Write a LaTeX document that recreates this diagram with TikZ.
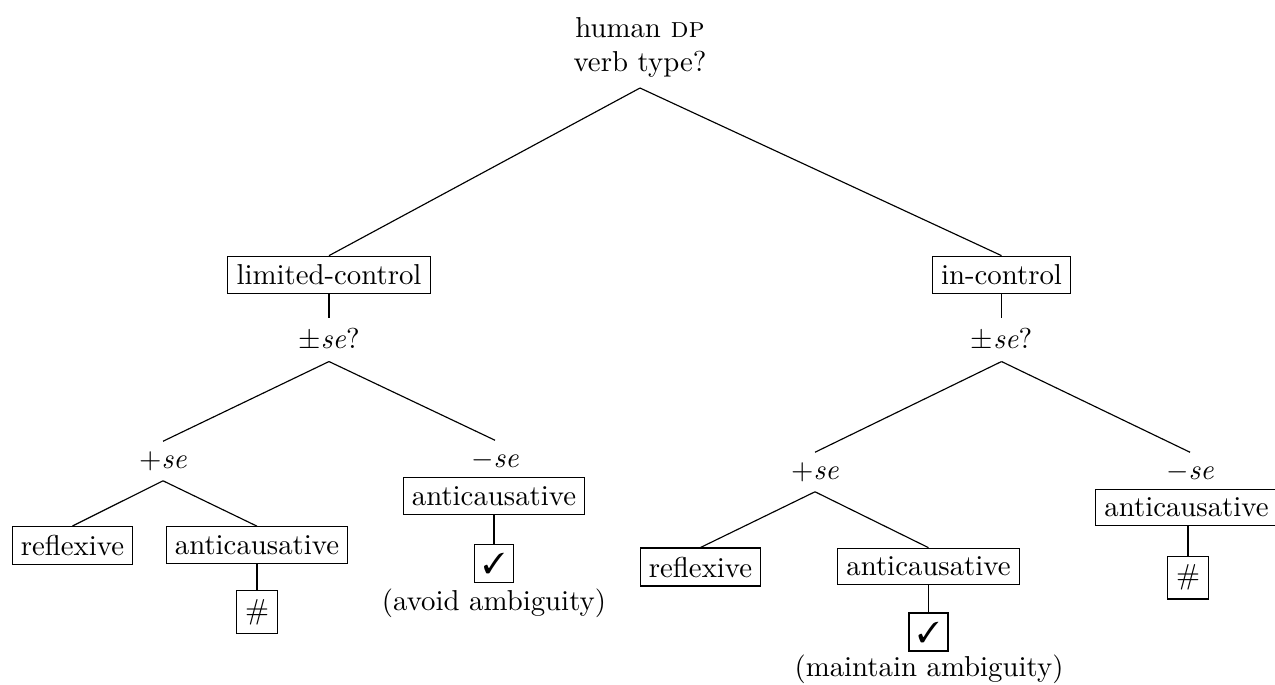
\documentclass[tikz,border=0pt]{standalone}
\usepackage{pifont}
\tikzset{
  box/.style={draw, inner sep=3pt},
  lbl/.style={inner sep=3.33pt},
  edge/.style={draw, line width=0.4pt},
}
\begin{document}
\begin{tikzpicture}[x=0.3472pt,y=-0.3472pt]
\useasboundingbox (0,0) rectangle (1275,684);
% root
\node[lbl, align=center, anchor=south] (root) at (640,88) {human \textsc{dp}\\verb type?};
% level 1
\node[box] (lc) at (329,275) {limited-control};
\node[box] (ic) at (1001.5,275) {in-control};
% level 2
\node[lbl] (pl) at (329,340) {$\pm$\textit{se\/}?};
\node[lbl] (pr) at (1001.5,340) {$\pm$\textit{se\/}?};
% left subtree
\node[lbl] (psL) at (163,461) {$+$\textit{se}};
\node[lbl] (msL) at (495,460) {$-$\textit{se}};
\node[box] (refL) at (72.5,545.5) {reflexive};
\node[box] (acL) at (257,545) {anticausative};
\node[box] (hashL) at (257,612) {\#};
\node[box] (acM) at (494,496) {anticausative};
\node[box] (chkL) at (494,563.5) {\ding{51}};
\node[lbl] (avoid) at (494,603) {(avoid ambiguity)};
% right subtree
\node[lbl] (psR) at (815,472) {$+$\textit{se}};
\node[lbl] (msR) at (1190,472) {$-$\textit{se}};
\node[box] (refR) at (700.5,567) {reflexive};
\node[box] (acR) at (928.5,566.5) {anticausative};
\node[box] (chkR) at (928.5,632) {\ding{51}};
\node[lbl] (maint) at (929,669) {(maintain ambiguity)};
\node[box] (acR2) at (1186.5,507.5) {anticausative};
\node[box] (hashR) at (1188,577.5) {\#};
% connectors
\path[edge] (root.south) -- (lc.north);
\path[edge] (root.south) -- (ic.north);
\path[edge] (lc.south) -- (pl.north);
\path[edge] (ic.south) -- (pr.north);
\path[edge] (pl.south) -- (psL.north);
\path[edge] (pl.south) -- (msL.north);
\path[edge] (psL.south) -- (refL.north);
\path[edge] (psL.south) -- (acL.north);
\path[edge] (acL.south) -- (hashL.north);
\path[edge] (acM.south) -- (chkL.north);
\path[edge] (pr.south) -- (psR.north);
\path[edge] (pr.south) -- (msR.north);
\path[edge] (psR.south) -- (refR.north);
\path[edge] (psR.south) -- (acR.north);
\path[edge] (acR.south) -- (chkR.north);
\path[edge] (hashR.north |- acR2.south) -- (hashR.north);
\end{tikzpicture}
\end{document}
